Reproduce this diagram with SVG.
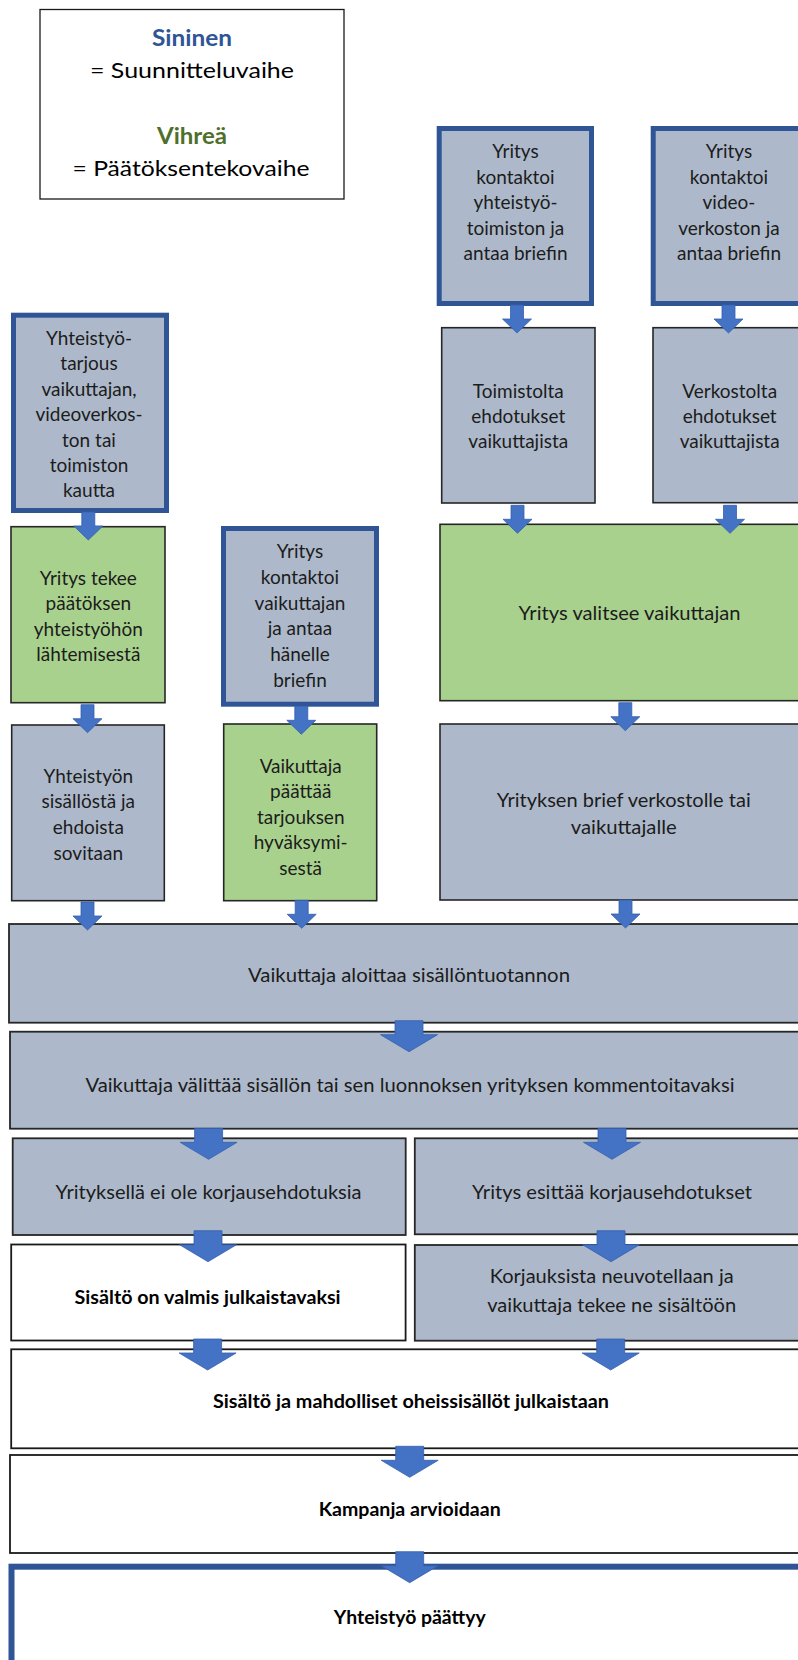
<svg xmlns="http://www.w3.org/2000/svg" xmlns:xlink="http://www.w3.org/1999/xlink" width="798" height="1660" viewBox="0 0 798 1660">
<style>
.g{fill:#ADB9CA;stroke:#262626;stroke-width:1.6}
.gr{fill:#A9D18E;stroke:#262626;stroke-width:1.6}
.w{fill:#fff;stroke:#1a1a1a;stroke-width:1.8}
.tb{fill:#ADB9CA;stroke:#2F5597;stroke-width:5}
.tbw{fill:#fff;stroke:#2F5597;stroke-width:6}
.t{font-family:Lato,"Liberation Sans",sans-serif;font-size:19px;fill:#1c1c1c;text-anchor:middle}
.tl{font-family:Lato,"Liberation Sans",sans-serif;font-size:19.5px;fill:#1c1c1c;text-anchor:middle}
.b{font-weight:bold;fill:#000}
.lg{font-family:Lato,"Liberation Sans",sans-serif;font-size:22px;fill:#000;text-anchor:middle}
.arr{fill:#4472C4;stroke:#3560AD;stroke-width:0.8}
</style>
<defs>
<path id="aS" class="arr" d="M-6.5,-28 H6.5 V-14 H14.5 L0,0 L-14.5,-14 H-6.5 Z"/>
<path id="aL" class="arr" d="M-14,-31 H14 V-17 H28.5 L0,0 L-28.5,-17 H-14 Z"/>
</defs>

<g id="legend">
<rect x="40" y="9.5" width="304" height="189.5" fill="#fff" stroke="#1a1a1a" stroke-width="1.3"/>
<text class="lg b" x="192" y="46" style="fill:#2F5597" textLength="80" lengthAdjust="spacingAndGlyphs">Sininen</text>
<text class="lg" x="192" y="78" textLength="204" lengthAdjust="spacingAndGlyphs">= Suunnitteluvaihe</text>
<text class="lg b" x="192" y="143.5" style="fill:#4F6F2C" textLength="70" lengthAdjust="spacingAndGlyphs">Vihreä</text>
<text class="lg" x="191" y="176" textLength="237" lengthAdjust="spacingAndGlyphs">= Päätöksentekovaihe</text>
</g>

<g id="nA">
<rect class="tb" x="439.2" y="128.5" width="152.3" height="175"/>
<text class="t" x="515.5" y="158.3">Yritys</text>
<text class="t" x="515.5" y="184">kontaktoi</text>
<text class="t" x="515.5" y="209.3">yhteistyö-</text>
<text class="t" x="515.5" y="234.5">toimiston ja</text>
<text class="t" x="515.5" y="259.5">antaa briefin</text>
</g>
<g id="nB">
<rect class="tb" x="653.2" y="128.5" width="160" height="175"/>
<text class="t" x="729" y="158.3">Yritys</text>
<text class="t" x="729" y="184">kontaktoi</text>
<text class="t" x="729" y="209.3">video-</text>
<text class="t" x="729" y="234.5">verkoston ja</text>
<text class="t" x="729" y="259.5">antaa briefin</text>
</g>
<g id="nC">
<rect class="g" x="441.7" y="327.7" width="153.3" height="175.3"/>
<text class="t" x="518.3" y="397.7">Toimistolta</text>
<text class="t" x="518.3" y="423.3">ehdotukset</text>
<text class="t" x="518.3" y="448.3">vaikuttajista</text>
</g>
<g id="nD">
<rect class="g" x="653" y="327.7" width="160" height="175"/>
<text class="t" x="729.7" y="397.7">Verkostolta</text>
<text class="t" x="729.7" y="423.3">ehdotukset</text>
<text class="t" x="729.7" y="448.3">vaikuttajista</text>
</g>
<g id="nE">
<rect class="tb" x="13.5" y="315.2" width="153" height="195.3"/>
<text class="t" x="89" y="345">Yhteistyö-</text>
<text class="t" x="89" y="370.3">tarjous</text>
<text class="t" x="89" y="396">vaikuttajan,</text>
<text class="t" x="89" y="421">videoverkos-</text>
<text class="t" x="89" y="446.7">ton tai</text>
<text class="t" x="89" y="471.7">toimiston</text>
<text class="t" x="89" y="496.7">kautta</text>
</g>
<g id="nF">
<rect class="gr" x="11" y="526.7" width="154" height="176"/>
<text class="t" x="88.3" y="585">Yritys tekee</text>
<text class="t" x="88.3" y="610">päätöksen</text>
<text class="t" x="88.3" y="635.7">yhteistyöhön</text>
<text class="t" x="88.3" y="660.7">lähtemisestä</text>
</g>
<g id="nG">
<rect class="tb" x="223.5" y="528.5" width="153" height="175.7"/>
<text class="t" x="300" y="558.3">Yritys</text>
<text class="t" x="300" y="584.3">kontaktoi</text>
<text class="t" x="300" y="610">vaikuttajan</text>
<text class="t" x="300" y="635">ja antaa</text>
<text class="t" x="300" y="660.7">hänelle</text>
<text class="t" x="300" y="686.7">briefin</text>
</g>
<g id="nK">
<rect class="gr" x="440" y="524.3" width="370" height="176.4"/>
<text class="t" x="629.5" y="620" textLength="222" lengthAdjust="spacingAndGlyphs">Yritys valitsee vaikuttajan</text>
</g>
<g id="nH">
<rect class="g" x="11.7" y="725" width="152.6" height="175.7"/>
<text class="t" x="88.3" y="783.3">Yhteistyön</text>
<text class="t" x="88.3" y="808.3">sisällöstä ja</text>
<text class="t" x="88.3" y="834.3">ehdoista</text>
<text class="t" x="88.3" y="860">sovitaan</text>
</g>
<g id="nI">
<rect class="gr" x="223.7" y="724" width="153" height="176.7"/>
<text class="t" x="300.7" y="773.3">Vaikuttaja</text>
<text class="t" x="300.7" y="798.3">päättää</text>
<text class="t" x="300.7" y="824">tarjouksen</text>
<text class="t" x="300.7" y="849.3">hyväksymi-</text>
<text class="t" x="300.7" y="875">sestä</text>
</g>
<g id="nL">
<rect class="g" x="440" y="724" width="370" height="176"/>
<text class="t" x="623.7" y="806.7" textLength="254" lengthAdjust="spacingAndGlyphs">Yrityksen brief verkostolle tai</text>
<text class="t" x="623.7" y="834.3" textLength="106" lengthAdjust="spacingAndGlyphs">vaikuttajalle</text>
</g>
<g id="nJ">
<rect class="g" x="9" y="924" width="800" height="98.7" style="stroke-width:1.8"/>
<text class="tl" x="409" y="982" textLength="322" lengthAdjust="spacingAndGlyphs">Vaikuttaja aloittaa sisällöntuotannon</text>
</g>
<g id="nM">
<rect class="g" x="10" y="1031.7" width="800" height="97" style="stroke-width:1.8"/>
<text class="tl" x="410" y="1092" textLength="649" lengthAdjust="spacingAndGlyphs">Vaikuttaja välittää sisällön tai sen luonnoksen yrityksen kommentoitavaksi</text>
</g>
<g id="nN">
<rect class="g" x="12.7" y="1138.3" width="393" height="96.7" style="stroke-width:1.8"/>
<text class="tl" x="208.6" y="1199" textLength="306" lengthAdjust="spacingAndGlyphs">Yrityksellä ei ole korjausehdotuksia</text>
</g>
<g id="nO">
<rect class="g" x="414.8" y="1138.3" width="400" height="96" style="stroke-width:1.8"/>
<text class="tl" x="612" y="1199" textLength="280" lengthAdjust="spacingAndGlyphs">Yritys esittää korjausehdotukset</text>
</g>
<g id="nP">
<rect class="w" x="11.2" y="1244.5" width="394.4" height="96"/>
<text class="tl b" x="207.6" y="1304" textLength="266" lengthAdjust="spacingAndGlyphs">Sisältö on valmis julkaistavaksi</text>
</g>
<g id="nQ">
<rect class="g" x="414.8" y="1245" width="400" height="95.7" style="stroke-width:1.8"/>
<text class="tl" x="611.7" y="1283.3" textLength="244" lengthAdjust="spacingAndGlyphs">Korjauksista neuvotellaan ja</text>
<text class="tl" x="611.7" y="1311.7" textLength="249" lengthAdjust="spacingAndGlyphs">vaikuttaja tekee ne sisältöön</text>
</g>
<g id="nR">
<rect class="w" x="11.2" y="1349.3" width="800" height="99"/>
<text class="tl b" x="411" y="1407.7" textLength="396" lengthAdjust="spacingAndGlyphs">Sisältö ja mahdolliset oheissisällöt julkaistaan</text>
</g>
<g id="nS">
<rect class="w" x="10" y="1455" width="800" height="98"/>
<text class="tl b" x="409.7" y="1516" textLength="182" lengthAdjust="spacingAndGlyphs">Kampanja arvioidaan</text>
</g>
<g id="nT">
<rect class="tbw" x="11.5" y="1566.7" width="800" height="200"/>
<text class="tl b" x="409.7" y="1624" textLength="152" lengthAdjust="spacingAndGlyphs">Yhteistyö päättyy</text>
</g>

<g id="connectors">
<use href="#aS" xlink:href="#aS" x="517" y="333"/>
<use href="#aS" xlink:href="#aS" x="728.5" y="333"/>
<use href="#aS" xlink:href="#aS" x="517.5" y="533.3"/>
<use href="#aS" xlink:href="#aS" x="730" y="533.3"/>
<use href="#aS" xlink:href="#aS" x="625.3" y="730.7"/>
<use href="#aS" xlink:href="#aS" x="88.3" y="540"/>
<use href="#aS" xlink:href="#aS" x="87.5" y="732.7"/>
<use href="#aS" xlink:href="#aS" x="301.3" y="734.3"/>
<use href="#aS" xlink:href="#aS" x="87.5" y="930"/>
<use href="#aS" xlink:href="#aS" x="301.7" y="928.3"/>
<use href="#aS" xlink:href="#aS" x="625.5" y="928"/>
<use href="#aL" xlink:href="#aL" x="409" y="1051.7"/>
<use href="#aL" xlink:href="#aL" x="208.6" y="1159.3"/>
<use href="#aL" xlink:href="#aL" x="612" y="1159.3"/>
<use href="#aL" xlink:href="#aL" x="208" y="1261.7"/>
<use href="#aL" xlink:href="#aL" x="611" y="1261.7"/>
<use href="#aL" xlink:href="#aL" x="207.6" y="1370"/>
<use href="#aL" xlink:href="#aL" x="610.7" y="1370"/>
<use href="#aL" xlink:href="#aL" x="409.7" y="1477.3"/>
<use href="#aL" xlink:href="#aL" x="409.7" y="1582.7"/>
</g>
</svg>
